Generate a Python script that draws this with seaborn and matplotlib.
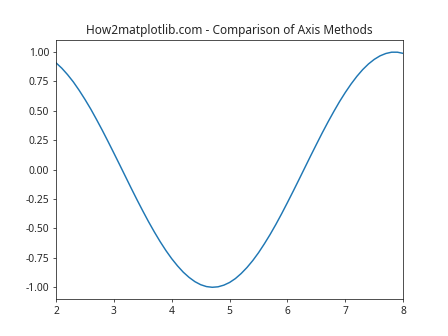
import matplotlib
matplotlib.use("Agg")
import matplotlib.pyplot as plt
import seaborn as sns
import pandas as pd

x_values = [2.0, 2.1, 2.2, 2.3, 2.4, 2.5, 2.6, 2.7, 2.8, 2.9,
            3.0, 3.1, 3.2, 3.3, 3.4, 3.5, 3.6, 3.7, 3.8, 3.9,
            4.0, 4.1, 4.2, 4.3, 4.4, 4.5, 4.6, 4.7, 4.8, 4.9,
            5.0, 5.1, 5.2, 5.3, 5.4, 5.5, 5.6, 5.7, 5.8, 5.9,
            6.0, 6.1, 6.2, 6.3, 6.4, 6.5, 6.6, 6.7, 6.8, 6.9,
            7.0, 7.1, 7.2, 7.3, 7.4, 7.5, 7.6, 7.7, 7.8, 7.9, 8.0]
y_values = [0.909, 0.863, 0.808, 0.746, 0.675, 0.598, 0.516, 0.427, 0.335, 0.239,
            0.141, 0.042, -0.058, -0.158, -0.256, -0.351, -0.443, -0.530, -0.612, -0.688,
            -0.757, -0.818, -0.872, -0.916, -0.952, -0.978, -0.994, -1.000, -0.996, -0.982,
            -0.959, -0.926, -0.883, -0.832, -0.773, -0.706, -0.631, -0.551, -0.465, -0.374,
            -0.279, -0.182, -0.083, 0.017, 0.117, 0.215, 0.312, 0.405, 0.494, 0.579,
            0.657, 0.729, 0.794, 0.851, 0.899, 0.938, 0.968, 0.988, 0.999, 0.999, 0.989]
title = "How2matplotlib.com - Comparison of Axis Methods"

sns.set_style("ticks")
plt.rcParams['font.family'] = ['Noto Sans', 'DejaVu Sans']

df = pd.DataFrame({"x": x_values, "y": y_values})
fig, ax = plt.subplots(figsize=(6.4, 4.8), dpi=70)
sns.lineplot(data=df, x="x", y="y", ax=ax, color="#1f77b4", linewidth=1.5)
ax.set_xlim(2, 8)
ax.set_ylim(-1.1, 1.1)
ax.set_yticks([-1.0, -0.75, -0.5, -0.25, 0.0, 0.25, 0.5, 0.75, 1.0])
ax.set_yticklabels(["-1.00", "-0.75", "-0.50", "-0.25", "0.00", "0.25", "0.50", "0.75", "1.00"])
ax.set_xlabel("")
ax.set_ylabel("")
ax.set_title(title, fontsize=12.2)
for s in ax.spines.values():
    s.set_visible(True)
    s.set_color("#222222")
ax.tick_params(labelsize=10.5)
fig.savefig("out.png", dpi=70)
